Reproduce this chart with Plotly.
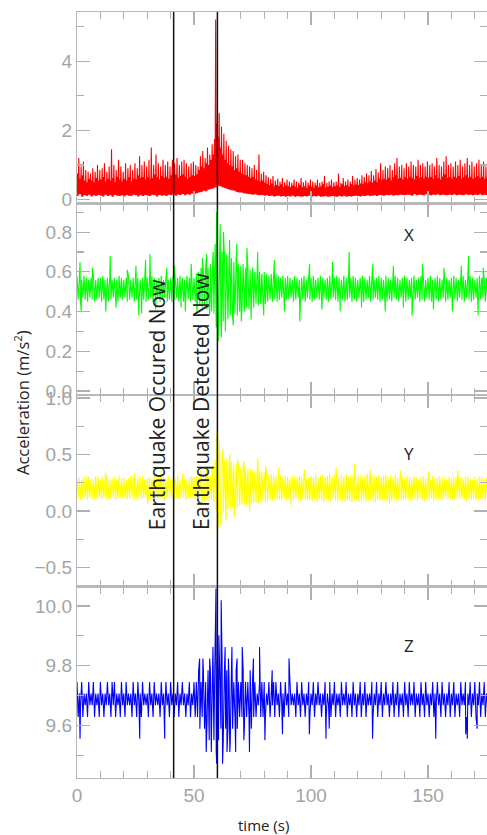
import plotly.graph_objects as go
from plotly.subplots import make_subplots

# ---------------- data ----------------
time_s = list(range(176))  # one envelope reading per second, 0..175 s

# top panel: magnitude (red) - lower edge, dense core top, light peaks
red_lo = [
    0.10, 0.15, 0.08, 0.12, 0.10, 0.14, 0.09, 0.12, 0.10, 0.13,
    0.11, 0.09, 0.14, 0.10, 0.12, 0.08, 0.13, 0.11, 0.10, 0.12,
    0.09, 0.13, 0.11, 0.10, 0.14, 0.12, 0.09, 0.12, 0.10, 0.13,
    0.11, 0.10, 0.14, 0.12, 0.09, 0.13, 0.11, 0.12, 0.10, 0.14,
    0.12, 0.15, 0.11, 0.14, 0.13, 0.16, 0.12, 0.15, 0.14, 0.17,
    0.16, 0.18, 0.20, 0.22, 0.25, 0.24, 0.28, 0.30, 0.32, 0.35,
    0.40, 0.38, 0.35, 0.33, 0.30, 0.28, 0.27, 0.25, 0.22, 0.20,
    0.20, 0.18, 0.17, 0.16, 0.15, 0.14, 0.15, 0.13, 0.12, 0.13,
    0.11, 0.12, 0.10, 0.11, 0.09, 0.10, 0.11, 0.09, 0.10, 0.08,
    0.10, 0.09, 0.11, 0.08, 0.10, 0.09, 0.08, 0.10, 0.09, 0.11,
    0.08, 0.10, 0.09, 0.11, 0.08, 0.09, 0.10, 0.08, 0.09, 0.10,
    0.09, 0.08, 0.10, 0.09, 0.11, 0.08, 0.10, 0.09, 0.10, 0.11,
    0.10, 0.09, 0.11, 0.10, 0.12, 0.10, 0.11, 0.12, 0.10, 0.13,
    0.12, 0.11, 0.13, 0.12, 0.14, 0.11, 0.13, 0.12, 0.14, 0.13,
    0.12, 0.14, 0.13, 0.11, 0.15, 0.12, 0.14, 0.13, 0.12, 0.15,
    0.13, 0.12, 0.14, 0.13, 0.15, 0.12, 0.14, 0.13, 0.12, 0.14,
    0.13, 0.15, 0.12, 0.14, 0.13, 0.12, 0.15, 0.13, 0.14, 0.12,
    0.14, 0.13, 0.15, 0.12, 0.14, 0.13,
]
red_hi = [
    0.75, 0.60, 0.70, 0.55, 0.50, 0.60, 0.55, 0.50, 0.62, 0.55,
    0.58, 0.65, 0.52, 0.60, 0.55, 0.62, 0.50, 0.66, 0.58, 0.52,
    0.60, 0.55, 0.64, 0.52, 0.60, 0.58, 0.70, 0.62, 0.65, 0.58,
    0.66, 0.60, 0.62, 0.72, 0.64, 0.58, 0.68, 0.62, 0.66, 0.60,
    0.70, 0.65, 0.72, 0.62, 0.68, 0.72, 0.66, 0.60, 0.65, 0.70,
    0.68, 0.72, 0.85, 0.95, 0.90, 1.05, 1.00, 1.15, 1.30, 5.20,
    1.80, 1.50, 1.30, 1.15, 1.05, 1.00, 0.95, 0.85, 0.90, 0.80,
    0.75, 0.72, 0.70, 0.66, 0.62, 0.65, 0.58, 0.55, 0.52, 0.55,
    0.48, 0.45, 0.42, 0.46, 0.38, 0.42, 0.38, 0.44, 0.36, 0.40,
    0.38, 0.35, 0.40, 0.37, 0.34, 0.42, 0.35, 0.38, 0.34, 0.40,
    0.37, 0.34, 0.40, 0.35, 0.38, 0.44, 0.34, 0.37, 0.40, 0.35,
    0.38, 0.40, 0.35, 0.44, 0.38, 0.41, 0.37, 0.45, 0.40, 0.43,
    0.42, 0.46, 0.44, 0.50, 0.47, 0.52, 0.48, 0.55, 0.50, 0.60,
    0.55, 0.60, 0.56, 0.62, 0.55, 0.64, 0.70, 0.60, 0.63, 0.58,
    0.65, 0.60, 0.66, 0.62, 0.58, 0.68, 0.62, 0.65, 0.60, 0.66,
    0.62, 0.65, 0.60, 0.70, 0.62, 0.58, 0.66, 0.72, 0.62, 0.65,
    0.60, 0.66, 0.62, 0.68, 0.60, 0.64, 0.70, 0.62, 0.66, 0.60,
    0.64, 0.68, 0.62, 0.66, 0.60, 0.64,
]
red_peak = [
    1.20, 0.95, 1.10, 0.85, 0.80, 0.75, 0.90, 0.80, 1.00, 0.85,
    0.90, 1.05, 0.80, 0.95, 1.45, 1.00, 0.85, 1.15, 0.95, 0.80,
    1.05, 0.90, 1.00, 0.85, 1.05, 0.90, 1.25, 1.00, 1.10, 0.95,
    1.15, 1.50, 1.00, 1.30, 1.05, 0.95, 1.15, 1.00, 1.10, 0.95,
    1.15, 1.05, 1.20, 1.00, 1.10, 1.15, 1.05, 0.95, 1.05, 1.10,
    1.00, 0.95, 1.25, 1.40, 1.20, 1.50, 1.30, 1.60, 1.75, 2.20,
    2.50, 2.10, 1.90, 1.70, 1.55, 1.45, 1.40, 1.25, 1.30, 1.15,
    1.15, 1.05, 1.00, 0.95, 0.90, 1.00, 0.85, 1.30, 0.75, 0.80,
    0.70, 0.65, 0.60, 0.68, 0.55, 0.60, 0.52, 0.62, 0.50, 0.58,
    0.52, 0.48, 0.58, 0.52, 0.48, 0.62, 0.50, 0.55, 0.48, 0.58,
    0.52, 0.48, 0.58, 0.48, 0.52, 0.68, 0.48, 0.52, 0.58, 0.50,
    0.52, 0.75, 0.48, 0.62, 0.52, 0.58, 0.52, 0.68, 0.58, 0.62,
    0.58, 0.70, 0.65, 0.75, 0.70, 0.82, 0.70, 0.88, 0.78, 1.05,
    0.85, 0.95, 0.90, 1.00, 0.85, 1.05, 1.20, 0.95, 1.00, 0.90,
    1.05, 0.95, 1.10, 1.00, 0.95, 1.15, 1.00, 1.05, 0.95, 1.10,
    1.00, 1.05, 0.95, 1.20, 1.00, 0.95, 1.10, 1.25, 1.00, 1.05,
    0.95, 1.10, 1.00, 1.15, 0.95, 1.05, 1.20, 1.00, 1.10, 0.95,
    1.05, 1.15, 1.00, 1.10, 0.95, 1.05,
]

# X axis (green)
x_hi = [
    0.58, 0.57, 0.56, 0.58, 0.57, 0.56, 0.57, 0.58, 0.56, 0.57,
    0.57, 0.58, 0.56, 0.57, 0.58, 0.56, 0.57, 0.56, 0.58, 0.57,
    0.56, 0.57, 0.58, 0.56, 0.57, 0.58, 0.57, 0.56, 0.57, 0.58,
    0.57, 0.56, 0.58, 0.57, 0.56, 0.57, 0.58, 0.56, 0.57, 0.56,
    0.57, 0.58, 0.56, 0.57, 0.58, 0.57, 0.56, 0.58, 0.57, 0.58,
    0.57, 0.59, 0.60, 0.62, 0.61, 0.63, 0.62, 0.64, 0.66, 0.74,
    0.78, 0.72, 0.70, 0.68, 0.69, 0.66, 0.67, 0.65, 0.66, 0.64,
    0.63, 0.64, 0.62, 0.63, 0.61, 0.62, 0.60, 0.61, 0.60, 0.59,
    0.60, 0.59, 0.58, 0.59, 0.58, 0.59, 0.58, 0.57, 0.58, 0.57,
    0.58, 0.57, 0.56, 0.58, 0.57, 0.56, 0.57, 0.58, 0.56, 0.57,
    0.57, 0.58, 0.56, 0.57, 0.58, 0.57, 0.56, 0.57, 0.58, 0.56,
    0.57, 0.58, 0.57, 0.56, 0.58, 0.57, 0.56, 0.57, 0.58, 0.57,
    0.56, 0.57, 0.58, 0.57, 0.56, 0.58, 0.57, 0.56, 0.57, 0.58,
    0.57, 0.56, 0.58, 0.57, 0.56, 0.57, 0.58, 0.57, 0.56, 0.57,
    0.58, 0.57, 0.56, 0.57, 0.58, 0.56, 0.57, 0.58, 0.57, 0.56,
    0.57, 0.58, 0.56, 0.57, 0.58, 0.57, 0.56, 0.58, 0.57, 0.56,
    0.57, 0.58, 0.57, 0.56, 0.57, 0.58, 0.56, 0.57, 0.58, 0.57,
    0.56, 0.57, 0.58, 0.57, 0.56, 0.57,
]
x_lo = [
    0.46, 0.45, 0.47, 0.46, 0.45, 0.47, 0.46, 0.45, 0.46, 0.47,
    0.45, 0.46, 0.47, 0.45, 0.46, 0.47, 0.46, 0.45, 0.47, 0.46,
    0.47, 0.45, 0.46, 0.47, 0.45, 0.46, 0.45, 0.47, 0.46, 0.45,
    0.46, 0.47, 0.45, 0.46, 0.47, 0.45, 0.46, 0.47, 0.45, 0.46,
    0.45, 0.46, 0.47, 0.45, 0.46, 0.45, 0.47, 0.46, 0.45, 0.46,
    0.45, 0.44, 0.43, 0.42, 0.43, 0.41, 0.42, 0.40, 0.39, 0.32,
    0.28, 0.33, 0.35, 0.37, 0.36, 0.38, 0.37, 0.39, 0.38, 0.40,
    0.41, 0.40, 0.42, 0.41, 0.43, 0.42, 0.44, 0.43, 0.44, 0.45,
    0.44, 0.45, 0.46, 0.45, 0.46, 0.45, 0.46, 0.47, 0.45, 0.46,
    0.46, 0.47, 0.45, 0.46, 0.47, 0.45, 0.46, 0.45, 0.47, 0.46,
    0.45, 0.46, 0.47, 0.46, 0.45, 0.47, 0.46, 0.45, 0.46, 0.47,
    0.46, 0.45, 0.47, 0.46, 0.45, 0.46, 0.47, 0.45, 0.46, 0.45,
    0.47, 0.46, 0.45, 0.46, 0.47, 0.45, 0.46, 0.47, 0.46, 0.45,
    0.46, 0.47, 0.45, 0.46, 0.45, 0.47, 0.46, 0.45, 0.47, 0.46,
    0.45, 0.46, 0.47, 0.45, 0.46, 0.47, 0.45, 0.46, 0.45, 0.47,
    0.46, 0.45, 0.47, 0.46, 0.45, 0.46, 0.47, 0.45, 0.46, 0.47,
    0.45, 0.46, 0.45, 0.47, 0.46, 0.45, 0.47, 0.46, 0.45, 0.46,
    0.47, 0.45, 0.46, 0.47, 0.45, 0.46,
]
x_spikes = {
    1.3: 0.65, 1.8: 0.40, 6.6: 0.62, 12.3: 0.40, 14.2: 0.68, 16.7: 0.42,
    21.5: 0.61, 25.2: 0.63, 26.4: 0.38, 27.6: 0.39, 29.3: 0.66, 31.2: 0.69,
    33.6: 0.41, 38.4: 0.62, 41.7: 0.63, 44.5: 0.42, 46.3: 0.40, 48.8: 0.64,
    51.2: 0.40, 53.6: 0.67, 55.4: 0.69, 56.7: 0.38, 58.2: 0.70, 59.6: 0.90,
    60.3: 0.25, 61.2: 0.84, 61.7: 0.27, 62.6: 0.80, 63.4: 0.30, 65.2: 0.76,
    66.8: 0.33, 68.3: 0.74, 70.2: 0.35, 72.6: 0.72, 74.4: 0.36, 77.2: 0.70,
    79.8: 0.38, 84.3: 0.66, 88.6: 0.40, 95.2: 0.35, 99.4: 0.64, 104.7: 0.41,
    109.2: 0.65, 112.5: 0.40, 116.3: 0.70, 121.6: 0.42, 126.4: 0.64,
    131.7: 0.40, 135.2: 0.63, 139.5: 0.42, 143.2: 0.38, 147.6: 0.64,
    152.3: 0.41, 156.8: 0.62, 160.4: 0.40, 164.2: 0.63, 167.3: 0.68,
    171.4: 0.38, 173.6: 0.62,
}

# Y axis (yellow)
y_hi = [
    0.29, 0.30, 0.28, 0.31, 0.29, 0.30, 0.28, 0.29, 0.31, 0.30,
    0.28, 0.30, 0.29, 0.31, 0.28, 0.29, 0.30, 0.28, 0.31, 0.29,
    0.30, 0.28, 0.29, 0.31, 0.30, 0.28, 0.29, 0.30, 0.31, 0.28,
    0.29, 0.30, 0.28, 0.31, 0.29, 0.30, 0.28, 0.30, 0.29, 0.31,
    0.28, 0.30, 0.29, 0.31, 0.28, 0.30, 0.29, 0.28, 0.30, 0.31,
    0.30, 0.31, 0.30, 0.32, 0.31, 0.33, 0.32, 0.31, 0.33, 0.45,
    0.55, 0.50, 0.48, 0.45, 0.46, 0.42, 0.44, 0.41, 0.42, 0.40,
    0.39, 0.40, 0.38, 0.37, 0.38, 0.36, 0.35, 0.36, 0.34, 0.35,
    0.34, 0.33, 0.32, 0.33, 0.32, 0.31, 0.32, 0.31, 0.30, 0.31,
    0.30, 0.29, 0.31, 0.30, 0.29, 0.31, 0.30, 0.32, 0.29, 0.30,
    0.31, 0.30, 0.32, 0.29, 0.31, 0.32, 0.30, 0.31, 0.33, 0.30,
    0.32, 0.31, 0.30, 0.32, 0.31, 0.33, 0.30, 0.31, 0.32, 0.30,
    0.31, 0.32, 0.30, 0.31, 0.33, 0.30, 0.32, 0.31, 0.30, 0.32,
    0.30, 0.31, 0.32, 0.30, 0.31, 0.29, 0.32, 0.30, 0.31, 0.30,
    0.29, 0.31, 0.30, 0.29, 0.31, 0.30, 0.28, 0.30, 0.31, 0.29,
    0.30, 0.28, 0.31, 0.29, 0.30, 0.31, 0.29, 0.30, 0.28, 0.30,
    0.29, 0.31, 0.30, 0.28, 0.30, 0.29, 0.31, 0.30, 0.29, 0.28,
    0.30, 0.29, 0.31, 0.30, 0.28, 0.30,
]
y_lo = [
    0.11, 0.10, 0.12, 0.11, 0.10, 0.12, 0.11, 0.10, 0.11, 0.12,
    0.10, 0.11, 0.12, 0.10, 0.11, 0.12, 0.10, 0.11, 0.12, 0.11,
    0.12, 0.10, 0.11, 0.12, 0.10, 0.11, 0.12, 0.10, 0.11, 0.12,
    0.11, 0.10, 0.12, 0.11, 0.10, 0.12, 0.11, 0.10, 0.12, 0.11,
    0.10, 0.11, 0.12, 0.10, 0.11, 0.12, 0.10, 0.11, 0.12, 0.11,
    0.11, 0.10, 0.11, 0.10, 0.09, 0.10, 0.09, 0.10, 0.08, 0.00,
    -0.08, -0.04, -0.02, 0.00, 0.01, 0.02, 0.03, 0.04, 0.03, 0.05,
    0.05, 0.06, 0.05, 0.07, 0.06, 0.07, 0.08, 0.07, 0.08, 0.09,
    0.08, 0.09, 0.10, 0.09, 0.10, 0.11, 0.10, 0.09, 0.11, 0.10,
    0.11, 0.10, 0.09, 0.11, 0.10, 0.09, 0.11, 0.10, 0.09, 0.10,
    0.09, 0.10, 0.08, 0.10, 0.09, 0.08, 0.10, 0.09, 0.08, 0.10,
    0.09, 0.08, 0.10, 0.09, 0.08, 0.10, 0.09, 0.08, 0.09, 0.10,
    0.08, 0.09, 0.10, 0.08, 0.09, 0.10, 0.09, 0.08, 0.10, 0.09,
    0.10, 0.09, 0.08, 0.10, 0.09, 0.11, 0.09, 0.10, 0.09, 0.10,
    0.11, 0.10, 0.09, 0.11, 0.10, 0.09, 0.11, 0.10, 0.09, 0.11,
    0.10, 0.11, 0.09, 0.10, 0.11, 0.10, 0.09, 0.11, 0.10, 0.11,
    0.10, 0.09, 0.11, 0.10, 0.11, 0.10, 0.09, 0.11, 0.10, 0.11,
    0.09, 0.10, 0.11, 0.10, 0.09, 0.11,
]
y_spikes = {
    12.3: 0.34, 24.6: 0.33, 30.2: 0.06, 35.8: 0.34, 45.2: 0.33, 52.7: 0.36,
    53.4: 0.05, 55.4: 0.37, 57.8: 0.40, 59.7: 0.68, 60.2: -0.17, 60.8: 0.62,
    61.3: -0.12, 62.4: 0.55, 63.7: -0.08, 65.3: 0.50, 67.2: -0.05, 68.6: 0.46,
    71.4: 0.44, 73.8: 0.00, 77.3: 0.47, 80.6: 0.40, 86.2: 0.38, 91.5: 0.05,
    97.4: 0.37, 110.7: 0.39, 118.6: 0.42, 125.3: 0.36, 133.6: 0.06,
    138.4: 0.36, 150.4: 0.35, 162.7: 0.36,
}

# Z axis (blue)
z_hi = [
    9.746, 9.707, 9.746, 9.707, 9.707, 9.746, 9.707, 9.746, 9.707, 9.707,
    9.746, 9.707, 9.707, 9.746, 9.707, 9.746, 9.746, 9.707, 9.707, 9.746,
    9.707, 9.746, 9.707, 9.707, 9.746, 9.707, 9.746, 9.707, 9.746, 9.707,
    9.707, 9.746, 9.707, 9.746, 9.707, 9.707, 9.746, 9.707, 9.746, 9.707,
    9.746, 9.707, 9.707, 9.746, 9.707, 9.746, 9.707, 9.707, 9.746, 9.707,
    9.746, 9.746, 9.785, 9.746, 9.785, 9.746, 9.785, 9.785, 9.824, 9.863,
    9.824, 9.785, 9.824, 9.785, 9.785, 9.746, 9.785, 9.746, 9.785, 9.746,
    9.746, 9.785, 9.746, 9.746, 9.785, 9.746, 9.746, 9.707, 9.746, 9.746,
    9.746, 9.707, 9.746, 9.707, 9.746, 9.746, 9.707, 9.746, 9.707, 9.746,
    9.707, 9.746, 9.707, 9.707, 9.746, 9.707, 9.746, 9.707, 9.707, 9.746,
    9.707, 9.746, 9.707, 9.746, 9.707, 9.707, 9.746, 9.707, 9.746, 9.707,
    9.746, 9.707, 9.707, 9.746, 9.707, 9.746, 9.707, 9.707, 9.746, 9.707,
    9.707, 9.746, 9.707, 9.746, 9.707, 9.707, 9.746, 9.707, 9.746, 9.707,
    9.746, 9.707, 9.746, 9.707, 9.707, 9.746, 9.707, 9.746, 9.707, 9.707,
    9.746, 9.707, 9.746, 9.707, 9.746, 9.707, 9.707, 9.746, 9.707, 9.746,
    9.707, 9.707, 9.746, 9.707, 9.746, 9.707, 9.746, 9.707, 9.707, 9.746,
    9.707, 9.746, 9.707, 9.707, 9.746, 9.707, 9.746, 9.707, 9.746, 9.707,
    9.746, 9.707, 9.746, 9.707, 9.746, 9.707,
]
z_lo = [
    9.629, 9.668, 9.629, 9.668, 9.629, 9.668, 9.668, 9.629, 9.668, 9.629,
    9.668, 9.629, 9.668, 9.668, 9.629, 9.668, 9.629, 9.668, 9.629, 9.668,
    9.629, 9.668, 9.668, 9.629, 9.668, 9.629, 9.668, 9.629, 9.668, 9.668,
    9.629, 9.668, 9.629, 9.668, 9.668, 9.629, 9.668, 9.629, 9.668, 9.629,
    9.668, 9.629, 9.668, 9.629, 9.668, 9.668, 9.629, 9.668, 9.629, 9.668,
    9.629, 9.629, 9.590, 9.629, 9.590, 9.590, 9.551, 9.590, 9.551, 9.512,
    9.551, 9.590, 9.551, 9.590, 9.590, 9.551, 9.590, 9.629, 9.590, 9.629,
    9.629, 9.590, 9.629, 9.629, 9.590, 9.629, 9.629, 9.668, 9.629, 9.629,
    9.629, 9.668, 9.629, 9.668, 9.629, 9.668, 9.629, 9.668, 9.629, 9.668,
    9.629, 9.668, 9.668, 9.629, 9.668, 9.629, 9.668, 9.629, 9.668, 9.629,
    9.668, 9.629, 9.668, 9.668, 9.629, 9.668, 9.629, 9.668, 9.629, 9.668,
    9.629, 9.668, 9.629, 9.668, 9.668, 9.629, 9.668, 9.629, 9.668, 9.629,
    9.668, 9.629, 9.668, 9.629, 9.668, 9.668, 9.629, 9.668, 9.629, 9.668,
    9.629, 9.668, 9.668, 9.629, 9.668, 9.629, 9.668, 9.629, 9.668, 9.629,
    9.668, 9.629, 9.668, 9.668, 9.629, 9.668, 9.629, 9.668, 9.629, 9.668,
    9.629, 9.668, 9.629, 9.668, 9.668, 9.629, 9.668, 9.629, 9.668, 9.629,
    9.668, 9.629, 9.668, 9.629, 9.668, 9.668, 9.629, 9.668, 9.629, 9.668,
    9.629, 9.668, 9.629, 9.668, 9.629, 9.668,
]
z_spikes = {
    1.3: 9.556, 26.8: 9.556, 37.5: 9.556, 52.4: 9.824, 53.8: 9.824,
    55.2: 9.512, 56.7: 9.824, 57.4: 9.512, 58.1: 9.863, 59.4: 10.058,
    59.7: 9.473, 60.6: 9.902, 61.6: 10.019, 62.2: 9.473, 63.3: 9.863,
    64.1: 9.512, 64.7: 9.824, 65.3: 9.512, 66.2: 9.863, 67.8: 9.512,
    68.4: 9.824, 70.6: 9.863, 71.3: 9.551, 73.7: 9.512, 75.4: 9.824,
    78.0: 9.863, 80.3: 9.551, 83.4: 9.785, 87.8: 9.571, 90.6: 9.824,
    99.3: 9.571, 106.4: 9.556, 107.8: 9.590, 126.3: 9.556, 153.3: 9.556,
    166.1: 9.571, 166.8: 9.556, 171.0: 9.590,
}

event_times = [41.3, 60.0]
event_labels = ["Earthquake Occured Now", "Earthquake Detected Now"]
panel_names = ["X", "Y", "Z"]
panel_name_pos = [(142, 0.79), (142, 0.51), (142, 9.868)]

# ---------------- building the traces ----------------
for arr in (red_lo, red_hi, red_peak, x_hi, x_lo, y_hi, y_lo, z_hi, z_lo):
    assert len(arr) == len(time_s), len(arr)


def red_series():
    pts = []
    for t, lo, hi, pk in zip(time_s, red_lo, red_hi, red_peak):
        pts += [(t, lo), (t + 0.25, hi), (t + 0.5, lo), (t + 0.75, pk)]
    return [p[0] for p in pts], [p[1] for p in pts]


def band_series(hi, lo, spikes):
    pts = []
    for t, h, l in zip(time_s, hi, lo):
        pts += [(t, h), (t + 0.5, l)]
    pts += list(spikes.items())
    pts.sort()
    return [p[0] for p in pts], [p[1] for p in pts]


fig = make_subplots(rows=4, cols=1, shared_xaxes=True, vertical_spacing=0)

series = [
    (red_series(), "#ff0000"),
    (band_series(x_hi, x_lo, x_spikes), "#00ff00"),
    (band_series(y_hi, y_lo, y_spikes), "#ffff00"),
    (band_series(z_hi, z_lo, z_spikes), "#0000ff"),
]
for r, ((xs, ys), col) in enumerate(series, start=1):
    fig.add_trace(go.Scatter(x=xs, y=ys, mode="lines",
                             line=dict(color=col, width=1.1, simplify=False),
                             hoverinfo="skip", showlegend=False), row=r, col=1)

AX = "#b8b8b8"
TK = "#b0b0b0"
TICKFONT = dict(family="Liberation Sans Narrow, Liberation Sans, Arial Narrow, sans-serif",
                size=19, color="#a4a4a4")

for r in range(1, 5):
    fig.update_xaxes(range=[0, 175.2], showline=True, linecolor=AX, linewidth=1.2,
                     mirror="allticks", ticks="inside", ticklen=13, tickwidth=1.2,
                     tickcolor=TK, tick0=0, dtick=50,
                     minor=dict(dtick=10, ticks="inside", ticklen=7, tickwidth=1.2, tickcolor=TK),
                     showgrid=False, zeroline=False, tickfont=TICKFONT,
                     showticklabels=(r == 4), row=r, col=1)

y_specs = [
    dict(range=[-0.116, 5.42], dtick=2, minor=1, fmt=""),
    dict(range=[-0.02, 0.944], dtick=0.2, minor=0.1, fmt=".1f"),
    dict(range=[-0.668, 1.026], dtick=0.5, minor=0.25, fmt=".1f"),
    dict(range=[9.425, 10.065], dtick=0.2, minor=0.1, fmt=".1f"),
]
for r, s in enumerate(y_specs, start=1):
    fig.update_yaxes(range=s["range"], dtick=s["dtick"], tick0=0, tickformat=s["fmt"],
                     showline=True, linecolor=AX, linewidth=1.2, mirror="allticks",
                     ticks="inside", ticklen=13, tickwidth=1.2, tickcolor=TK,
                     minor=dict(dtick=s["minor"], ticks="inside", ticklen=7,
                                tickwidth=1.2, tickcolor=TK),
                     showgrid=False, zeroline=False, tickfont=TICKFONT,
                     row=r, col=1)

shapes = []
for t in event_times:
    shapes.append(dict(type="line", xref="x4", yref="paper", x0=t, x1=t, y0=0, y1=1,
                       line=dict(color="#111111", width=1.5)))

# plot area spans window x 77..487, y 12..778 (body margin removed below)
TXT = "Open Sans, Noto Sans, sans-serif"
annotations = []
for t, lab in zip(event_times, event_labels):
    annotations.append(dict(x=t, y=0.3211, xref="x4", yref="paper", text=lab,
                            textangle=-90, xanchor="right", yanchor="bottom",
                            xshift=-1, showarrow=False,
                            font=dict(family=TXT, size=21, color="#222222")))
for i, (name, (px_, py_)) in enumerate(zip(panel_names, panel_name_pos), start=2):
    annotations.append(dict(x=px_, y=py_, xref=f"x{i}", yref=f"y{i}", text=name,
                            showarrow=False, xanchor="center", yanchor="middle",
                            font=dict(family=TXT, size=17, color="#222222")))
annotations.append(dict(x=-0.134, y=0.4896, xref="paper", yref="paper",
                        text="Acceleration (m/s<sup>2</sup>)", textangle=-90,
                        showarrow=False, xanchor="center", yanchor="middle",
                        font=dict(family=TXT, size=16.5, color="#222222")))
annotations.append(dict(x=0.4537, y=-0.061, xref="paper", yref="paper",
                        text="time (s)", showarrow=False, xanchor="center",
                        yanchor="middle", font=dict(family=TXT, size=15, color="#222222")))

fig.update_layout(width=487, height=835, margin=dict(l=77, r=0, t=12, b=57),
                  paper_bgcolor="white", plot_bgcolor="white",
                  shapes=shapes, annotations=annotations, showlegend=False,
                  hovermode=False)

fig.write_html("out.html",
               config={"displayModeBar": False, "staticPlot": True},
               post_script="document.body.style.margin='0px';"
                           "document.body.style.overflow='hidden';")
